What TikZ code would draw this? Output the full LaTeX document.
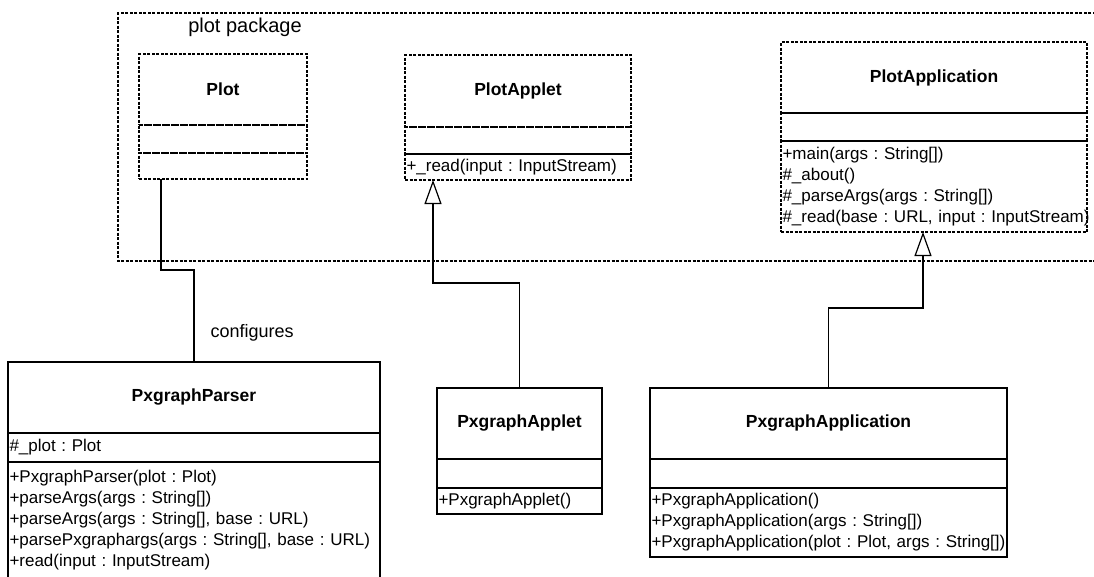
\documentclass[tikz,border=0pt]{standalone}
\usepackage{fontspec}
\setmainfont{Liberation Sans}
\usetikzlibrary{arrows.meta}
\frenchspacing

\tikzset{
  umlbox/.style={draw, line width=1.2pt, inner xsep=1.5pt, inner ysep=2pt, outer sep=0pt,
    anchor=north west, font=\fontsize{17}{21}\selectfont},
  pkgline/.style={dash pattern=on 3pt off 1.5pt},
  umltitle/.style={umlbox, minimum height=71pt, font=\bfseries\fontsize{17.5}{21}\selectfont},
  umlattr/.style={umlbox, minimum height=29pt, align=left},
  umlmeth/.style={umlbox, align=left},
  inherit/.style={line width=1.2pt, -{Triangle[open, length=24pt, width=17pt]}},
  assoc/.style={line width=1.2pt}
}

\begin{document}
\begin{tikzpicture}[x=1pt, y=-1pt]
\useasboundingbox (0,0) rectangle (1094,576);

% package frame, runs off to the right
\draw[line width=1.2pt, pkgline] (1100,13) -- (118,13) -- (118,261) -- (1100,261);
\node[font=\fontsize{20}{24}\selectfont] (pkgname) at (245,27) {plot package};

% classes of the plot package
\node[umltitle, pkgline, minimum width=168pt] (plott) at (139,54) {Plot};
\node[umlattr, pkgline, text width=165pt, minimum height=28pt] (plota) at (plott.south west) {};
\node[umlmeth, pkgline, text width=165pt, minimum height=26pt] (plotm) at (plota.south west) {};

\node[umltitle, pkgline, minimum width=226pt, minimum height=72pt] (applt) at (405,55) {PlotApplet};
\node[umlattr, pkgline, text width=223pt, minimum height=27pt] (appla) at (applt.south west) {};
\node[umlmeth, pkgline, text width=223pt, minimum height=26pt] (applm) at (appla.south west)
  {\begin{tabular}{@{}l@{}}+\_read(input : InputStream)\end{tabular}};

\node[umltitle, pkgline, minimum width=306pt] (appt) at (781,42) {PlotApplication};
\node[umlattr, pkgline, text width=303pt, minimum height=28pt] (appa) at (appt.south west) {};
\node[umlmeth, pkgline, text width=303pt, minimum height=91pt] (appm) at (appa.south west)
  {\begin{tabular}{@{}l@{}}+main(args : String[])\\\#\_about()\\\#\_parseArgs(args : String[])\\\#\_read(base : URL, input : InputStream)\end{tabular}};

% pxgraph classes
\node[umltitle, minimum width=372pt] (parsert) at (8,362) {PxgraphParser};
\node[umlattr, text width=369pt] (parsera) at (parsert.south west) {\#\_plot : Plot};
\node[umlmeth, text width=369pt, minimum height=116pt] (parserm) at (parsera.south west)
  {\begin{tabular}{@{}l@{}}+PxgraphParser(plot : Plot)\\+parseArgs(args : String[])\\+parseArgs(args : String[], base : URL)\\+parsePxgraphargs(args : String[], base : URL)\\+read(input : InputStream)\end{tabular}};

\node[umltitle, minimum width=165pt] (pappt) at (437,388) {PxgraphApplet};
\node[umlattr, text width=162pt] (pappa) at (pappt.south west) {};
\node[umlmeth, text width=162pt, minimum height=26pt] (pappm) at (pappa.south west)
  {\begin{tabular}{@{}l@{}}+PxgraphApplet()\end{tabular}};

\node[umltitle, minimum width=357pt] (pxappt) at (650,388) {PxgraphApplication};
\node[umlattr, text width=354pt] (pxappa) at (pxappt.south west) {};
\node[umlmeth, text width=354pt, minimum height=69pt] (pxappm) at (pxappa.south west)
  {\begin{tabular}{@{}l@{}}+PxgraphApplication()\\+PxgraphApplication(args : String[])\\+PxgraphApplication(plot : Plot, args : String[])\end{tabular}};

% connectors
\coordinate (plotfoot) at ([xshift=22pt]plotm.south west);
\coordinate (applfoot) at ([xshift=28pt]applm.south west);
\coordinate (appfoot) at ([xshift=142pt]appm.south west);
\coordinate (jogA) at (0,270);
\coordinate (jogB) at (0,283);
\coordinate (jogC) at (0,308);

\draw[assoc] (plotfoot) -- (plotfoot |- jogA) -| (parsert.north);
\node[anchor=west, font=\fontsize{18}{22}\selectfont] (cfglabel) at (207,333) {configures};

\draw[inherit] (pappt.north) -- (pappt.north |- jogB) -| (applfoot);
\draw[inherit] (pxappt.north) -- (pxappt.north |- jogC) -| (appfoot);
\end{tikzpicture}
\end{document}
